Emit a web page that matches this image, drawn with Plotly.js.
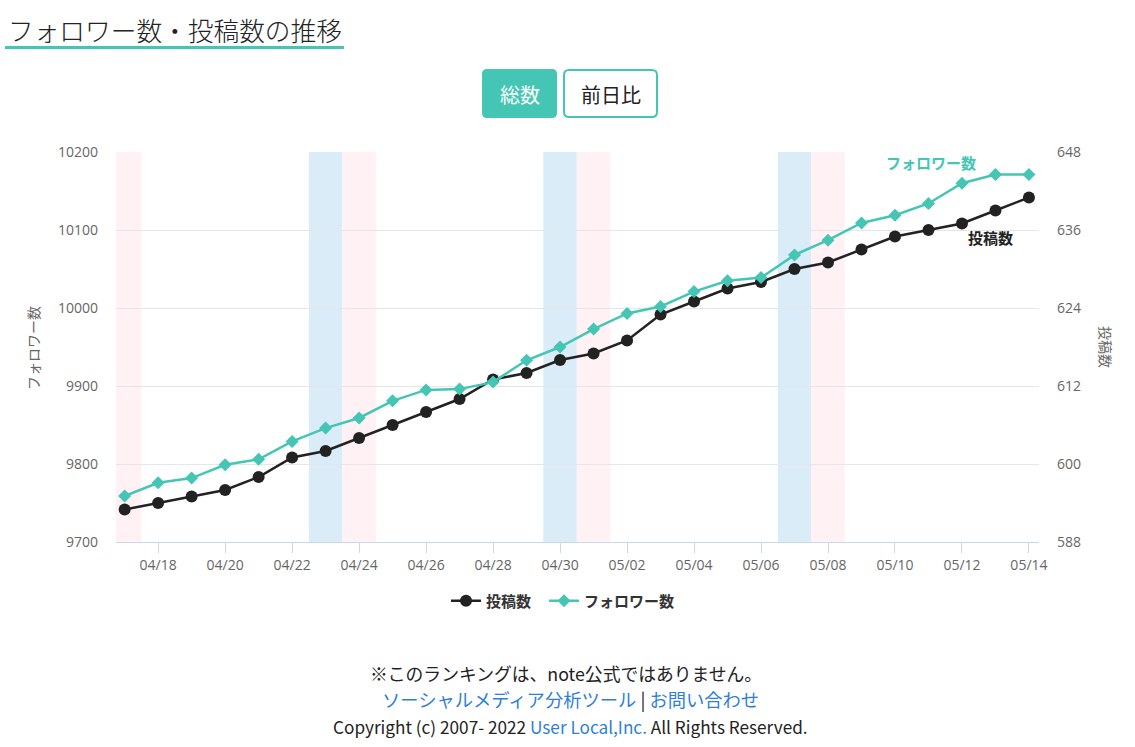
<!DOCTYPE html>
<html>
<head>
<meta charset="utf-8">
<script src="https://cdn.plot.ly/plotly-3.0.1.min.js"></script>
<style>
html,body{margin:0;padding:0;background:#fff;}
#chart{width:1135px;height:747px;}
</style>
</head>
<body>
<div id="chart"></div>
<script>
// ---- data ----
const dates = ['2022-04-17','2022-04-18','2022-04-19','2022-04-20','2022-04-21','2022-04-22','2022-04-23',
  '2022-04-24','2022-04-25','2022-04-26','2022-04-27','2022-04-28','2022-04-29','2022-04-30',
  '2022-05-01','2022-05-02','2022-05-03','2022-05-04','2022-05-05','2022-05-06','2022-05-07',
  '2022-05-08','2022-05-09','2022-05-10','2022-05-11','2022-05-12','2022-05-13','2022-05-14'];
const posts = [593,594,595,596,598,601,602,604,606,608,610,613,614,616,617,619,623,625,627,628,630,631,633,635,636,637,639,641];
const followers = [9759,9776,9782,9799,9806,9829,9846,9859,9881,9895,9896,9905,9933,9950,9973,9993,10002,10021,10035,10039,10068,10087,10109,10119,10134,10160,10171,10171];
const saturdays = ['2022-04-23','2022-04-30','2022-05-07'];
const sundays = ['2022-04-17','2022-04-24','2022-05-01','2022-05-08'];
const leftTicks = [9700,9800,9900,10000,10100,10200];
const rightTicks = [588,600,612,624,636,648];
const postsName = '投稿数';
const followersName = 'フォロワー数';

// ---- layout helpers (pixel -> paper) ----
const L = 116, R = 1039, T = 152, B = 542;
const px = x => (x - L) / (R - L);
const py = y => (B - y) / (B - T);
const TEAL = '#45c6b4';
const FONT = '"Noto Sans CJK JP", "Noto Sans", sans-serif';
const TICKFONT = '"Open Sans", "Noto Sans", sans-serif';

function addDays(d, h) {
  const t = new Date(d + 'T00:00:00Z').getTime() + h * 3600000;
  return new Date(t).toISOString().slice(0, 19).replace('T', ' ');
}

function roundRect(x0, y0, x1, y1, r) {
  const rx = r / (R - L), ry = r / (B - T);
  const a = px(x0), b = px(x1), c = py(y0), d = py(y1);
  return `M ${a + rx} ${c} L ${b - rx} ${c} Q ${b} ${c} ${b} ${c - ry} L ${b} ${d + ry} Q ${b} ${d} ${b - rx} ${d} ` +
         `L ${a + rx} ${d} Q ${a} ${d} ${a} ${d + ry} L ${a} ${c - ry} Q ${a} ${c} ${a + rx} ${c} Z`;
}

const shapes = [];
saturdays.forEach(d => shapes.push({type:'rect', xref:'x', yref:'paper', x0:addDays(d,-12), x1:addDays(d,12), y0:0, y1:1,
  fillcolor:'#daecf7', line:{width:0}, layer:'below'}));
sundays.forEach(d => shapes.push({type:'rect', xref:'x', yref:'paper', x0:addDays(d,-12), x1:addDays(d,12), y0:0, y1:1,
  fillcolor:'#fff1f4', line:{width:0}, layer:'below'}));
shapes.push({type:'line', xref:'paper', yref:'paper', x0:px(5), x1:px(344), y0:py(47.5), y1:py(47.5), line:{color:TEAL, width:3}});
shapes.push({type:'path', xref:'paper', yref:'paper', path:roundRect(482,69,557,118,5), fillcolor:TEAL, line:{width:0}});
shapes.push({type:'path', xref:'paper', yref:'paper', path:roundRect(564,70,657,117,5), fillcolor:'#ffffff', line:{color:TEAL, width:2}});

const annotations = [
  {text:'フォロワー数・投稿数の推移', xref:'paper', yref:'paper', x:px(6), y:py(29), xanchor:'left', yanchor:'middle',
   showarrow:false, font:{family:FONT, size:25.7, color:'#222', weight:300}},
  {text:'総数', xref:'paper', yref:'paper', x:px(519.5), y:py(94), xanchor:'center', yanchor:'middle',
   showarrow:false, font:{family:FONT, size:20, color:'#fff'}},
  {text:'前日比', xref:'paper', yref:'paper', x:px(610.5), y:py(94), xanchor:'center', yanchor:'middle',
   showarrow:false, font:{family:FONT, size:20, color:'#222'}},
  {text:'フォロワー数', xref:'paper', yref:'paper', x:px(33), y:py(348), xanchor:'center', yanchor:'middle', textangle:-90,
   showarrow:false, font:{family:FONT, size:14, color:'#666'}},
  {text:'投稿数', xref:'paper', yref:'paper', x:px(1106), y:py(347), xanchor:'center', yanchor:'middle', textangle:90,
   showarrow:false, font:{family:FONT, size:14, color:'#666'}},
  {text:'<b>フォロワー数</b>', xref:'paper', yref:'paper', x:px(931), y:py(162), xanchor:'center', yanchor:'middle',
   showarrow:false, font:{family:FONT, size:15, color:TEAL}},
  {text:'<b>投稿数</b>', xref:'paper', yref:'paper', x:px(990), y:py(237), xanchor:'center', yanchor:'middle',
   showarrow:false, font:{family:FONT, size:15, color:'#222'}},
  {text:'※このランキングは、note公式ではありません。', xref:'paper', yref:'paper', x:px(566), y:py(673), xanchor:'center', yanchor:'middle',
   showarrow:false, font:{family:FONT, size:17.8, color:'#222'}},
  {text:'<span style="color:#2f7fd8">ソーシャルメディア分析ツール</span> | <span style="color:#2f7fd8">お問い合わせ</span>', xref:'paper', yref:'paper',
   x:px(570), y:py(699), xanchor:'center', yanchor:'middle', showarrow:false, font:{family:FONT, size:18.3, color:'#222'}},
  {text:'Copyright (c) 2007- 2022 <span style="color:#2f7fd8">User Local,Inc.</span> All Rights Reserved.', xref:'paper', yref:'paper',
   x:px(570), y:py(726), xanchor:'center', yanchor:'middle', showarrow:false, font:{family:FONT, size:17.2, color:'#222'}}
];

const traces = [
  {x:dates, y:posts, name:postsName, type:'scatter', mode:'lines+markers', yaxis:'y', legend:'legend',
   line:{color:'#222222', width:2.5}, marker:{symbol:'circle', size:12, color:'#222222'}},
  {x:dates, y:followers, name:followersName, type:'scatter', mode:'lines+markers', yaxis:'y2', legend:'legend2',
   line:{color:TEAL, width:2.5}, marker:{symbol:'diamond', size:10, color:TEAL}}
];

const legendFont = {family:FONT, size:15, color:'#333', weight:'bold'};
const layout = {
  width:1135, height:747, autosize:false,
  margin:{l:L, r:1135-R, t:T, b:747-B, pad:0},
  paper_bgcolor:'#ffffff', plot_bgcolor:'rgba(0,0,0,0)',
  font:{family:FONT, color:'#666'},
  showlegend:true,
  legend:{orientation:'h', x:px(446), y:py(601), xanchor:'left', yanchor:'middle',
    font:legendFont, bgcolor:'rgba(0,0,0,0)', itemwidth:30},
  legend2:{orientation:'h', x:px(544), y:py(601), xanchor:'left', yanchor:'middle',
    font:legendFont, bgcolor:'rgba(0,0,0,0)', itemwidth:30},
  xaxis:{type:'date', range:[addDays('2022-04-17',-6.2), addDays('2022-05-14',7.2)],
    tick0:'2022-04-18', dtick:2*86400000, tickformat:'%m/%d',
    showgrid:false, zeroline:false, showline:true, linecolor:'#ccd6eb', linewidth:1,
    ticks:'outside', ticklen:10, tickcolor:'#ccd6eb', tickwidth:1,
    tickfont:{family:TICKFONT, size:14, color:'#666'}, fixedrange:true},
  yaxis:{side:'right', range:[588,648], tickvals:rightTicks, ticktext:rightTicks.map(String),
    showgrid:true, gridcolor:'#e6e6e6', gridwidth:1, zeroline:false, showline:false, ticks:'',
    ticklabelstandoff:17, tickfont:{family:TICKFONT, size:14, color:'#666'}, fixedrange:true},
  yaxis2:{side:'left', overlaying:'y', range:[9700,10200], tickvals:leftTicks, ticktext:leftTicks.map(String),
    showgrid:false, zeroline:false, showline:false, ticks:'',
    ticklabelstandoff:17, tickfont:{family:TICKFONT, size:14, color:'#666'}, fixedrange:true},
  shapes:shapes,
  annotations:annotations,
  hovermode:false
};

Plotly.newPlot('chart', traces, layout, {displayModeBar:false, staticPlot:true});
</script>
</body>
</html>
